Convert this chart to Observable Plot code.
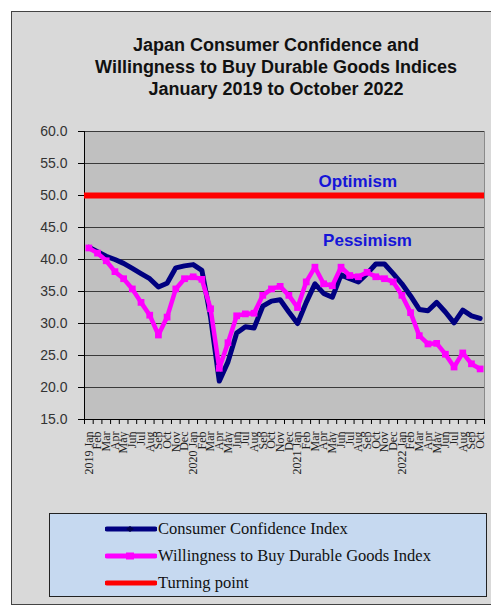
<!DOCTYPE html>
<html><head><meta charset="utf-8">
<script src="https://cdn.jsdelivr.net/npm/d3@7"></script>
<script src="https://cdn.jsdelivr.net/npm/@observablehq/plot@0.6"></script>
<style>
html,body{margin:0;padding:0;background:#fff;}
body{width:491px;height:608px;position:relative;overflow:hidden;}
#panel{position:absolute;left:11px;top:11px;width:490px;height:594px;background:#d9d9d9;border:1px solid #444;box-sizing:border-box;}
#title{position:absolute;left:56px;top:34px;width:440px;text-align:center;font:bold 18px/22px "Liberation Sans",Arial,sans-serif;color:#111;}
#chart{position:absolute;left:0;top:120px;}
#legend{position:absolute;left:49px;top:513px;width:438px;height:84px;box-sizing:border-box;background:#c6d9f0;border:1px solid #222;}
.row{position:absolute;left:0;height:20px;width:100%;}
.row svg{position:absolute;left:55px;top:5px;}
.row span{position:absolute;left:108px;top:0;font:16.5px/20px "Liberation Serif","Times New Roman",serif;color:#111;white-space:nowrap;}
</style></head>
<body>
<div id="panel"></div>
<div id="title">Japan Consumer Confidence and<br>Willingness to Buy Durable Goods Indices<br>January 2019 to October 2022</div>
<div id="chart"></div>
<div id="legend"></div>
<script>
// ---- data ----
const years = [2019, 2020, 2021, 2022];
const monthNames = ["Jan","Feb","Mar","Apr","May","Jun","Jul","Aug","Sep","Oct","Nov","Dec"];
const xLabels = years.flatMap(y => monthNames.map((m, k) => k === 0 ? `${y} ${m}` : m)).slice(0, 46);

const cci = [
  41.9, 41.2, 40.5, 40.0, 39.4, 38.6, 37.8, 37.0, 35.7, 36.3, 38.7, 39.0,
  39.2, 38.3, 31.0, 21.0, 24.0, 28.5, 29.5, 29.3, 32.7, 33.5, 33.7, 31.8,
  30.0, 33.3, 36.2, 34.7, 34.1, 37.6, 37.0, 36.5, 37.8, 39.3, 39.3, 37.8,
  36.2, 34.3, 32.2, 32.0, 33.3, 31.8, 30.1, 32.1, 31.2, 30.8
];
const wtb = [
  41.8, 41.0, 39.8, 38.1, 37.0, 35.4, 33.3, 31.3, 28.2, 31.0, 35.4, 37.0,
  37.3, 36.9, 32.3, 23.0, 27.0, 31.2, 31.5, 31.6, 34.4, 35.4, 35.8, 34.4,
  32.5, 36.5, 38.8, 36.2, 35.9, 38.8, 37.5, 37.3, 38.0, 37.3, 37.0, 36.5,
  34.4, 31.7, 28.1, 26.8, 26.9, 25.2, 23.2, 25.4, 23.7, 22.9
];
const turningPoint = 50;
const yTicks = [15, 20, 25, 30, 35, 40, 45, 50, 55, 60];
const notes = [
  {text: "Optimism", x: 30.93, y: 52.2},
  {text: "Pessimism", x: 32.05, y: 43.0}
];
const seriesNames = ["Consumer Confidence Index", "Willingness to Buy Durable Goods Index", "Turning point"];
const seriesColors = ["#000080", "#ff00ff", "#ff0000"];

// ---- chart ----
const n = xLabels.length;
const rows = xLabels.map((label, i) => ({i, label, cci: cci[i], wtb: wtb[i]}));

const chart = Plot.plot({
  width: 491, height: 360,
  marginLeft: 84, marginRight: 7, marginTop: 11, marginBottom: 61,
  style: {background: "transparent", fontFamily: "Liberation Sans, Arial, sans-serif", overflow: "visible", color: "#000"},
  x: {type: "linear", domain: [-0.5, n - 0.5], axis: null},
  y: {domain: [15, 60], axis: null},
  marks: [
    Plot.frame({fill: "#c0c0c0", stroke: "#8a8a8a"}),
    Plot.gridY(yTicks.filter(d => d > 15), {stroke: "#3a3a3a", strokeOpacity: 1}),
    Plot.axisY({ticks: yTicks, tickFormat: d => d.toFixed(1), tickSize: 6, tickPadding: 11, fontSize: 14, fill: "#333", stroke: "#000", label: null}),
    Plot.axisX({ticks: d3.range(n + 1).map(k => k - 0.5), tickFormat: () => "", tickSize: 5, label: null}),
    Plot.axisX({ticks: d3.range(n), tickFormat: k => xLabels[k], tickSize: 0, tickPadding: 12, tickRotate: -90,
      fontFamily: "Liberation Serif, Times New Roman, serif", fontSize: 12, fill: "#222", label: null}),
    Plot.ruleY([15], {stroke: "#000"}),
    Plot.ruleX([-0.5], {stroke: "#000"}),
    Plot.lineY(rows, {x: "i", y: "cci", stroke: seriesColors[0], strokeWidth: 5, strokeLinejoin: "round"}),
    Plot.lineY(rows, {x: "i", y: "wtb", stroke: seriesColors[1], strokeWidth: 4.5, strokeLinejoin: "round"}),
    Plot.dot(rows, {x: "i", y: "wtb", symbol: "square", r: 3.8, fill: seriesColors[1]}),
    Plot.ruleY([turningPoint], {stroke: seriesColors[2], strokeWidth: 6}),
    Plot.text(notes, {x: "x", y: "y", text: "text", fill: "#1515d8", fontSize: 17, fontWeight: "bold"})
  ]
});
document.getElementById("chart").appendChild(chart);

// ---- legend ----
const legend = document.getElementById("legend");
seriesNames.forEach((name, k) => {
  const row = document.createElement("div");
  row.className = "row";
  row.style.top = (5 + k * 27) + "px";
  const c = seriesColors[k];
  let marker = "";
  if (k === 0) marker = `<path d="M25 2 L29 5 L25 8 L21 5 Z" fill="#000050"/>`;
  if (k === 1) marker = `<rect x="21" y="1.5" width="8" height="7" fill="${c}"/>`;
  row.innerHTML = `<svg width="52" height="10"><line x1="2" y1="5" x2="50" y2="5" stroke="${c}" stroke-width="5" stroke-linecap="round"/>${marker}</svg><span>${name}</span>`;
  legend.appendChild(row);
});
</script>
</body></html>
